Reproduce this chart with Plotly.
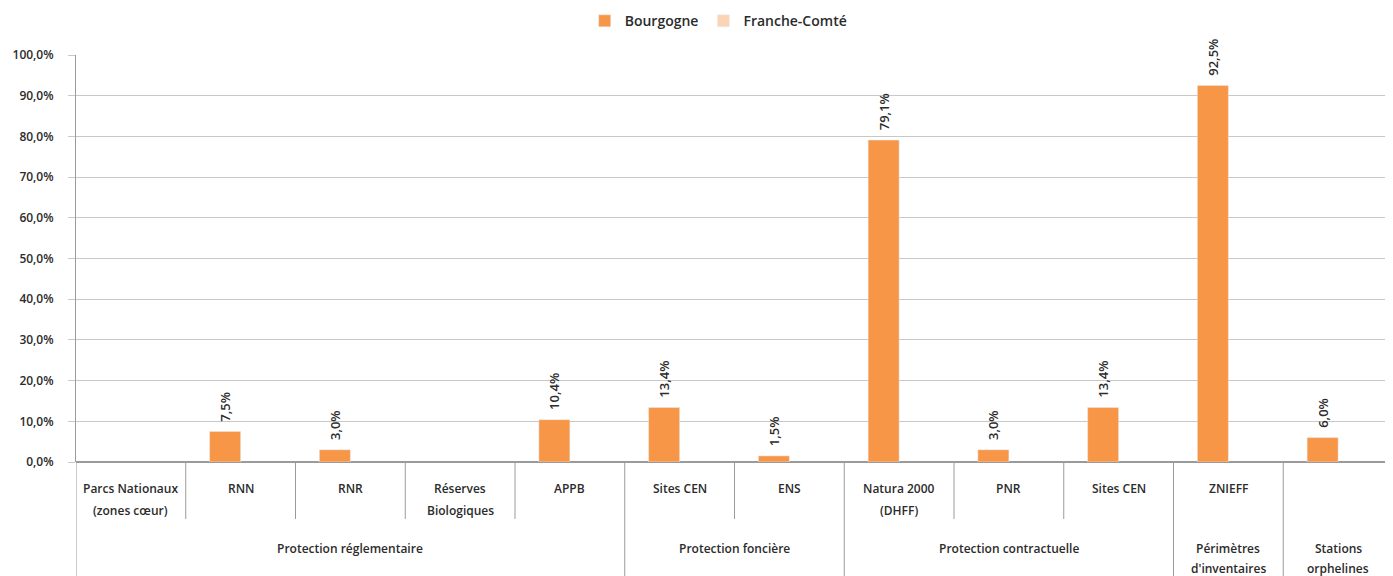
import plotly.graph_objects as go

# ---- data ----
categories = ["Parcs Nationaux<br>(zones cœur)", "RNN", "RNR", "Réserves<br>Biologiques", "APPB",
              "Sites CEN", "ENS", "Natura 2000<br>(DHFF)", "PNR", "Sites CEN", "ZNIEFF", ""]
groups = ["Protection réglementaire", "Protection foncière", "Protection contractuelle",
          "Périmètres<br>d'inventaires", "Stations<br>orphelines"]
group_spans = [(0, 4), (5, 6), (7, 9), (10, 10), (11, 11)]
bourgogne = [None, 7.5, 3.0, None, 10.4, 13.4, 1.5, 79.1, 3.0, 13.4, 92.5, 6.0]
franche_comte = [None] * 12
y_ticks = [0, 10, 20, 30, 40, 50, 60, 70, 80, 90, 100]

FONT = "Open Sans"
TXT = "#2b2b2b"
ORANGE = "#F79646"
PEACH = "#FBD4B4"

x = list(range(len(categories)))


def fmt(v):
    return "" if v is None else "\u00a0\u00a0" + f"{v:.1f}%".replace(".", ",")


def lbl_font(size=12):
    return dict(family=FONT, size=size, color=TXT, weight=600)


fig = go.Figure()
fig.add_trace(go.Bar(x=x, y=bourgogne, name="Bourgogne", marker_color=ORANGE,
                     text=[fmt(v) for v in bourgogne], textposition="outside",
                     textangle=-90, cliponaxis=False, constraintext="none",
                     textfont=lbl_font(13)))
fig.add_trace(go.Bar(x=x, y=franche_comte, name="Franche-Comté", marker_color=PEACH))

shapes = []
annotations = []
# category separators
group_bounds = {s - 0.5 for s, e in group_spans} | {e + 0.5 for s, e in group_spans}
for i in range(len(categories) - 1):
    b = i + 0.5
    long_ = b in group_bounds
    shapes.append(dict(type="line", xref="x", yref="paper", x0=b, x1=b, y0=0,
                       y1=-0.30 if long_ else -0.14, line=dict(color="#9a9a9a", width=1)))
# left axis extension
shapes.append(dict(type="line", xref="x", yref="paper", x0=-0.5, x1=-0.5, y0=0, y1=-0.30,
                   line=dict(color="#9a9a9a", width=1)))

# category labels
for i, c in enumerate(categories):
    for k, line in enumerate(c.split("<br>")):
        if not line:
            continue
        annotations.append(dict(x=i, xref="x", y=0, yref="paper", text=line, showarrow=False,
                                yanchor="middle", yshift=-26 - 22 * k, font=lbl_font(12)))
# group labels
for g, (s, e) in zip(groups, group_spans):
    for k, line in enumerate(g.split("<br>")):
        annotations.append(dict(x=(s + e) / 2, xref="x", y=0, yref="paper", text=line,
                                showarrow=False, yanchor="middle", yshift=-86 - 20 * k,
                                font=lbl_font(12)))

fig.update_layout(
    width=1385, height=568,
    margin=dict(l=68, r=0, t=47, b=114, autoexpand=False),
    paper_bgcolor="white", plot_bgcolor="white",
    barmode="group", bargap=0.435, bargroupgap=0,
    font=dict(family=FONT, size=12, color=TXT),
    showlegend=True,
    legend=dict(orientation="h", x=0.488, xanchor="center", y=1.083, yanchor="middle",
                font=lbl_font(14), itemwidth=30),
    xaxis=dict(range=[-0.5, 11.5], showticklabels=False, ticks="", showgrid=False,
               zeroline=False, showline=False),
    yaxis=dict(range=[0, 100], tickvals=y_ticks,
               ticktext=[f"{v:.1f}%".replace(".", ",") for v in y_ticks],
               showgrid=True, gridcolor="#c8c8c8", gridwidth=1,
               showline=True, linecolor="#9a9a9a", ticks="outside", ticklen=7,
               tickcolor="#c8c8c8", zeroline=True, zerolinecolor="#9a9a9a",
               ticklabelstandoff=12,
               tickfont=lbl_font(12), automargin=False),
    shapes=shapes, annotations=annotations,
)

fig.write_html("out.html")
